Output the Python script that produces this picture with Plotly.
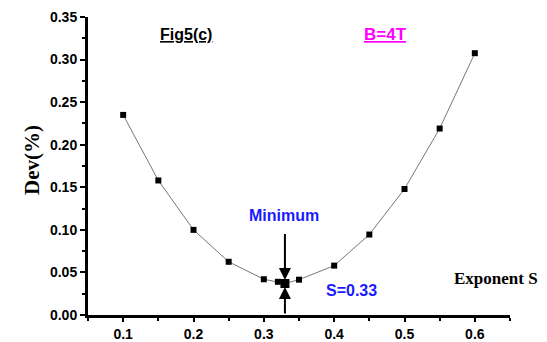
import plotly.graph_objects as go

s_values = [0.1, 0.15, 0.2, 0.25, 0.3, 0.32, 0.33, 0.35, 0.4, 0.45, 0.5, 0.55, 0.6]
dev_values = [0.235, 0.158, 0.100, 0.0625, 0.042, 0.039, 0.037, 0.0415, 0.058, 0.0945, 0.148, 0.219, 0.3075]
min_s = 0.33
min_dev = 0.037

fig = go.Figure()
fig.add_trace(go.Scatter(
    x=s_values, y=dev_values, mode="lines+markers",
    line=dict(color="#777777", width=1),
    marker=dict(symbol="square", size=6, color="black"),
    showlegend=False, cliponaxis=False,
))
fig.add_trace(go.Scatter(
    x=[min_s], y=[min_dev], mode="markers",
    marker=dict(symbol="square", size=9, color="black"),
    showlegend=False,
))

blue = "#1a1aff"
ann = []
ann.append(dict(x=min_s, y=min_dev + 0.004, ax=min_s, ay=0.097, xref="x", yref="y",
                axref="x", ayref="y", text="", showarrow=True, arrowhead=2,
                arrowsize=1.2, arrowwidth=2, arrowcolor="black"))
ann.append(dict(x=min_s, y=min_dev - 0.004, ax=min_s, ay=0.0, xref="x", yref="y",
                axref="x", ayref="y", text="", showarrow=True, arrowhead=2,
                arrowsize=1.2, arrowwidth=2, arrowcolor="black"))
ann.append(dict(x=0.3285, y=0.117, text="<b>Minimum</b>", showarrow=False,
                font=dict(family="Liberation Sans, Arial", size=16, color=blue)))
ann.append(dict(x=0.425, y=0.029, text="<b>S=0.33</b>", showarrow=False,
                font=dict(family="Liberation Sans, Arial", size=16, color=blue)))
ann.append(dict(x=0.63, y=0.043, text="<b>Exponent S</b>", showarrow=False,
                font=dict(family="Liberation Serif, Times New Roman", size=17, color="black")))
ann.append(dict(x=0.189, y=0.329, text="<b><u>Fig5(c)</u></b>", showarrow=False,
                font=dict(family="Liberation Sans, Arial", size=16, color="black")))
ann.append(dict(x=0.473, y=0.329, text="<b><u>B=4T</u></b>", showarrow=False,
                font=dict(family="Liberation Sans, Arial", size=17, color="#ff00ff")))
ann.append(dict(x=-0.166, y=0.52, xref="paper", yref="paper", text="<b>Dev(%)</b>",
                showarrow=False, textangle=-90,
                font=dict(family="Liberation Serif, Times New Roman", size=21, color="black")))

tickfont = dict(family="Liberation Sans, Arial", size=14, color="black")
fig.update_layout(
    width=547, height=342,
    margin=dict(l=88, r=37, t=17, b=27),
    plot_bgcolor="white", paper_bgcolor="white",
    annotations=ann,
    xaxis=dict(range=[0.05, 0.65], tick0=0.1, dtick=0.1, showgrid=False, zeroline=False,
               automargin=False,
               showline=True, linewidth=3, linecolor="black",
               ticks="outside", ticklen=4, tickwidth=2, tickcolor="black",
               minor=dict(dtick=0.05, tick0=0.05, ticks="outside", ticklen=3, tickwidth=2, tickcolor="black"),
               tickfont=tickfont,
               tickformat=".1f",
               tickprefix="<b>", ticksuffix="</b>"),
    yaxis=dict(range=[0, 0.35], tick0=0, dtick=0.05, showgrid=False, zeroline=False,
               automargin=False,
               showline=True, linewidth=3, linecolor="black",
               ticks="outside", ticklen=5, tickwidth=2, tickcolor="black",
               minor=dict(dtick=0.025, ticks="outside", ticklen=3, tickwidth=2, tickcolor="black"),
               tickfont=tickfont, tickformat=".2f",
               tickprefix="<b>", ticksuffix="</b>"),
)

fig.write_html("out.html")
